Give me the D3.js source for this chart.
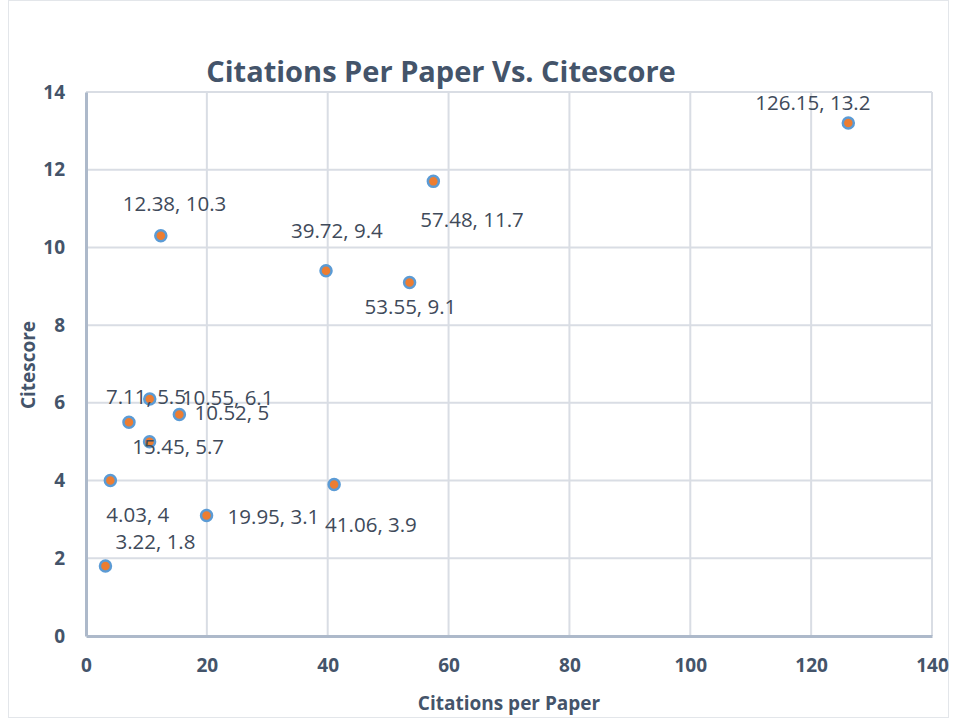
<!DOCTYPE html>
<html><head><meta charset="utf-8">
<script src="https://cdn.jsdelivr.net/npm/d3@7/dist/d3.min.js"></script>
<style>body{margin:0;background:#fff}</style>
</head><body><svg id="c" width="956" height="719"></svg>
<script>
const citations = [126.15, 57.48, 12.38, 39.72, 53.55, 10.55, 7.11, 15.45, 10.52, 4.03, 41.06, 19.95, 3.22];
const citescore = [13.2, 11.7, 10.3, 9.4, 9.1, 6.1, 5.5, 5.7, 5, 4, 3.9, 3.1, 1.8];
const labels = ["126.15, 13.2","57.48, 11.7","12.38, 10.3","39.72, 9.4","53.55, 9.1","10.55, 6.1","7.11, 5.5","15.45, 5.7","10.52, 5","4.03, 4","41.06, 3.9","19.95, 3.1","3.22, 1.8"];
// label offsets relative to marker (px), mimicking the reference's placement
const labelDx = [-93, -13, -38, -35, -45, 32, -23, -47, 45, -4, -9, 21, 10];
const labelDy = [-20, 38, -32, -40, 24, -1, -26, 32, -29, 34, 40, 1, -24];
const xTicks = [0,20,40,60,80,100,120,140];
const yTicks = [0,2,4,6,8,10,12,14];

const svg = d3.select("#c");
const L=86, R=932, T=92, B=636;
const x = d3.scaleLinear().domain([0,140]).range([L,R]);
const y = d3.scaleLinear().domain([0,14]).range([B,T]);
const txt = "#44546A";
const font = "'Open Sans', 'Liberation Sans', sans-serif";

svg.append("rect").attr("x",8.5).attr("y",0.5).attr("width",940).attr("height",717)
  .attr("fill","#fff").attr("stroke","#E3E6EA");

// grid
svg.append("g").selectAll("line").data(xTicks.slice(1)).join("line")
  .attr("x1",d=>x(d)).attr("x2",d=>x(d)).attr("y1",T).attr("y2",B)
  .attr("stroke","#D9DDE4").attr("stroke-width",2);
svg.append("g").selectAll("line").data(yTicks.slice(1)).join("line")
  .attr("x1",L).attr("x2",R).attr("y1",d=>y(d)).attr("y2",d=>y(d))
  .attr("stroke","#D9DDE4").attr("stroke-width",2);

// axes
const xa = svg.append("g").attr("transform",`translate(0,${B})`)
  .call(d3.axisBottom(x).tickValues(xTicks).tickSize(0).tickPadding(23));
const ya = svg.append("g").attr("transform",`translate(${L},0)`)
  .call(d3.axisLeft(y).tickValues(yTicks).tickSize(0).tickPadding(21));
[xa,ya].forEach(g=>{
  g.select(".domain").attr("stroke","#ADB9CA").attr("stroke-width",3);
  g.selectAll("text").attr("fill",txt).attr("font-family",font)
    .attr("font-size",19).attr("font-weight","bold");
});
xa.selectAll("text").attr("dy","0.71em");

// points
svg.append("g").selectAll("circle").data(citations).join("circle")
  .attr("cx",d=>x(d)).attr("cy",(d,i)=>y(citescore[i])).attr("r",5.5)
  .attr("fill","#ED7D31").attr("stroke","#5B9BD5").attr("stroke-width",2.5);

// data labels
svg.append("g").selectAll("text").data(labels).join("text")
  .attr("x",(d,i)=>x(citations[i])+labelDx[i])
  .attr("y",(d,i)=>y(citescore[i])+labelDy[i])
  .attr("dy","0.36em")
  .attr("fill","#404A5A").attr("font-family",font).attr("font-size",20.5)
  .text(d=>d);

// titles
svg.append("text").attr("x",441).attr("y",82).attr("text-anchor","middle")
  .attr("fill",txt).attr("font-family",font).attr("font-size",29).attr("font-weight","bold")
  .text("Citations Per Paper Vs. Citescore");
svg.append("text").attr("x",509).attr("y",710).attr("text-anchor","middle")
  .attr("fill",txt).attr("font-family",font).attr("font-size",19).attr("font-weight","bold")
  .text("Citations per Paper");
svg.append("text").attr("transform","translate(35,365) rotate(-90)").attr("text-anchor","middle")
  .attr("fill",txt).attr("font-family",font).attr("font-size",19).attr("font-weight","bold")
  .text("Citescore");
</script></body></html>
